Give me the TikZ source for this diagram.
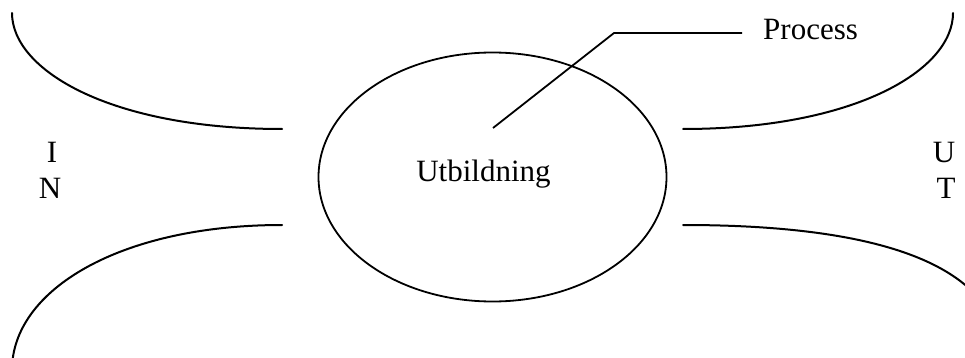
\documentclass[tikz,border=0pt]{standalone}
\usepackage{fontspec}
\setmainfont{Liberation Serif}
\usetikzlibrary{shapes.geometric}
\begin{document}
\begin{tikzpicture}[x=1pt,y=-1pt,
  lbl/.style={font=\fontsize{31}{37}\selectfont, inner sep=0pt, anchor=base},
  curve/.style={line width=2pt, line cap=round},
  thin/.style={line width=1.8pt}]
\useasboundingbox (0,0) rectangle (965,358);
\clip (0,0) rectangle (965,358);
% ellipse
\node[ellipse, draw, line width=1.8pt, minimum width=348pt, minimum height=249pt, inner sep=0pt] (edu) at (492.5,177) {};
\node[lbl] (edutxt) at (483.5,182) {Utbildning};
% side curves
\coordinate (tl1) at (12,13);   \coordinate (tl2) at (282,129);
\coordinate (bl1) at (282,225); \coordinate (bl2) at (12,370);
\coordinate (tr1) at (953,13);  \coordinate (tr2) at (683,129);
\coordinate (br1) at (683,225); \coordinate (br2) at (1000,340);
\draw[curve] (tl1) .. controls (12,70) and (110,129) .. (tl2);
\draw[curve] (bl1) .. controls (120,225) and (12,290) .. (bl2);
\draw[curve] (tr1) .. controls (953,70) and (855,129) .. (tr2);
\draw[curve] (br1) .. controls (840,225) and (980,250) .. (br2);
% labels
\node[lbl] (i) at (52,163) {I};
\node[lbl] (n) at (50,198) {N};
\node[lbl] (u) at (944,163) {U};
\node[lbl] (t) at (946,198) {T};
% process leader
\node[lbl, anchor=base west] (proc) at (763,40) {Process};
\coordinate (lead) at (493,128);
\coordinate (kink) at (614,33);
\coordinate (lend) at (742,33);
\draw[thin] (lead) -- (kink) -- (lend);
\end{tikzpicture}
\end{document}
